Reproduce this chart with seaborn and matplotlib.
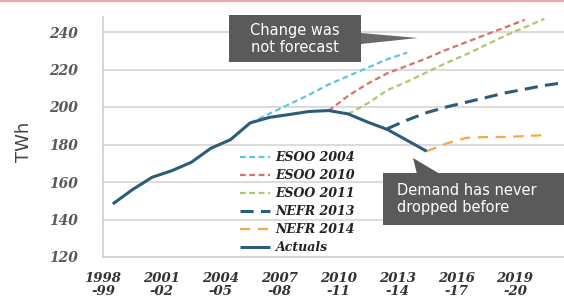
import matplotlib
matplotlib.use("Agg")
import matplotlib.pyplot as plt
import pandas as pd
import seaborn as sns
from matplotlib.patches import Rectangle, Polygon
from matplotlib.lines import Line2D

# ---------------- data ----------------
years = ["1998-99", "1999-00", "2000-01", "2001-02", "2002-03", "2003-04",
         "2004-05", "2005-06", "2006-07", "2007-08", "2008-09", "2009-10",
         "2010-11", "2011-12", "2012-13", "2013-14", "2014-15", "2015-16",
         "2016-17", "2017-18", "2018-19", "2019-20", "2020-21", "2021-22"]
tick_years = ["1998-99", "2001-02", "2004-05", "2007-08", "2010-11",
              "2013-14", "2016-17", "2019-20"]

esoo2004_start = "2005-06"
esoo2004 = [191.5, 196.5, 201.5, 206.5, 212.0, 216.5, 221.0, 225.5, 229.0]
esoo2010_start = "2009-10"
esoo2010 = [198.0, 206.0, 212.5, 218.0, 222.0, 226.0, 230.5, 234.5, 238.5, 242.5, 246.5]
esoo2011_start = "2010-11"
esoo2011 = [196.3, 202.0, 209.0, 213.5, 218.5, 223.5, 228.0, 233.0, 238.0, 242.5, 247.0]
nefr2013_start = "2012-13"
nefr2013 = [188.5, 193.0, 197.0, 200.0, 202.5, 205.0, 207.5, 209.5, 211.5, 213.0]
nefr2014_start = "2014-15"
nefr2014 = [176.4, 180.5, 183.5, 184.0, 184.0, 184.5, 185.0]
actuals_start = "1998-99"
actuals = [148.3, 155.9, 162.5, 166.0, 170.5, 178.0, 182.6, 191.5, 194.5,
           196.0, 197.6, 198.1, 196.3, 191.9, 188.0, 182.2, 176.4]

series = [
    ("ESOO 2004", esoo2004_start, esoo2004),
    ("ESOO 2010", esoo2010_start, esoo2010),
    ("ESOO 2011", esoo2011_start, esoo2011),
    ("NEFR 2013", nefr2013_start, nefr2013),
    ("NEFR 2014", nefr2014_start, nefr2014),
    ("Actuals", actuals_start, actuals),
]

rows = []
for name, start, vals in series:
    s = years.index(start)
    for k, v in enumerate(vals):
        rows.append({"series": name, "year": years[s + k], "value": v})
df = pd.DataFrame(rows)
df["pos"] = df["year"].map(lambda y: years.index(y) + 0.5)

# ---------------- styles ----------------
styles = {
    "ESOO 2004": dict(color="#5cc6df", lw=1.6, dashes=(2.6, 1.6)),
    "ESOO 2010": dict(color="#d8716b", lw=1.6, dashes=(2.6, 1.6)),
    "ESOO 2011": dict(color="#a9c96c", lw=1.6, dashes=(2.6, 1.6)),
    "NEFR 2013": dict(color="#2c5c7b", lw=2.2, dashes=(4.3, 2.4)),
    "NEFR 2014": dict(color="#f5a844", lw=1.6, dashes=(4.6, 3.4)),
    "Actuals":   dict(color="#2c5c7b", lw=2.2, dashes=None),
}

sns.set_style("white")
W, H = 564, 302
fig = plt.figure(figsize=(W / 100, H / 100), dpi=100)
ax = fig.add_axes([103 / W, 45 / H, (W - 103) / W, 1 - 17 / H - 45 / H])

handles = []
for name, _, _ in series:
    st = styles[name]
    sub = df[df["series"] == name]
    sns.lineplot(data=sub, x="pos", y="value", ax=ax, color=st["color"],
                 linewidth=st["lw"], estimator=None, sort=False,
                 legend=False, zorder=3 if name == "Actuals" else 2)
    ln = ax.lines[-1]
    if st["dashes"] is not None:
        ln.set_dashes(st["dashes"])
    ln.set_solid_capstyle("butt")
    ln.set_dash_capstyle("butt")
    handles.append(ln)

ax.set_xlim(0, 23.5)
ax.set_ylim(120, 248)
ax.set_yticks(range(120, 241, 20))
ax.set_xticks([years.index(y) for y in tick_years])
ax.set_xticklabels([y[:4] + "\n-" + y[5:] for y in tick_years],
                   fontdict=dict(family="DejaVu Serif", style="italic",
                                 weight="bold", size=9.5),
                   color="#333333", linespacing=0.95)
for t in ax.get_yticklabels():
    t.set_family("DejaVu Serif")
    t.set_style("italic")
    t.set_weight("bold")
    t.set_fontsize(10)
    t.set_color("#5a5a5a")
ax.set_xlabel("")
ax.set_ylabel("")
ax.grid(axis="y", color="#dcdcdc", linewidth=1.5)
ax.grid(axis="x", visible=False)
ax.set_axisbelow(True)
for side in ["top", "right"]:
    ax.spines[side].set_visible(False)
ax.spines["left"].set_color("#cfcfcf")
ax.spines["bottom"].set_color("#cfcfcf")
ax.spines["left"].set_linewidth(1.2)
ax.spines["bottom"].set_linewidth(1.2)
ax.tick_params(axis="y", length=3, color="#cfcfcf", pad=15)
ax.tick_params(axis="x", length=3, color="#cfcfcf", pad=8)

fig.text(24 / W, 1 - 142 / H, "TWh", rotation=90, ha="center", va="center",
         fontsize=13, color="#444444", family="DejaVu Sans")

leg = ax.legend(handles, [s[0] for s in series], loc="upper left",
                bbox_to_anchor=(240 / W, 1 - 151 / H),
                bbox_transform=fig.transFigure, frameon=False,
                borderpad=0, borderaxespad=0, handlelength=2.4,
                handletextpad=0.45, labelspacing=0.4,
                prop=dict(family="DejaVu Serif", style="italic",
                          weight="bold", size=9))
for t in leg.get_texts():
    t.set_color("#222222")

# ---------------- annotations ----------------
def fx(x):
    return x / W

def fy(y):
    return 1 - y / H

box_col = "#5a5a5a"
# box 1
fig.add_artist(Polygon([(fx(361), fy(33)), (fx(418), fy(38)), (fx(361), fy(44))],
                       closed=True, facecolor="#6a6a6a", edgecolor="none",
                       transform=fig.transFigure, zorder=5))
fig.add_artist(Rectangle((fx(229), fy(62)), fx(361) - fx(229), fy(15) - fy(62),
                         facecolor=box_col, edgecolor="none",
                         transform=fig.transFigure, zorder=5))
fig.text(fx(295), fy(39), "Change was\nnot forecast", ha="center", va="center",
         color="white", fontsize=10.5, family="DejaVu Sans", linespacing=1.2,
         zorder=6)
# box 2
fig.add_artist(Polygon([(fx(413), fy(158)), (fx(417), fy(174)), (fx(440), fy(174))],
                       closed=True, facecolor=box_col, edgecolor="none",
                       transform=fig.transFigure, zorder=5))
fig.add_artist(Rectangle((fx(383), fy(225)), fx(564) - fx(383), fy(173) - fy(225),
                         facecolor=box_col, edgecolor="none",
                         transform=fig.transFigure, zorder=5))
fig.text(fx(397), fy(199), "Demand has never\ndropped before", ha="left",
         va="center", color="white", fontsize=10.5, family="DejaVu Sans",
         linespacing=1.2, zorder=6)

# top pink rule
fig.add_artist(Line2D([0, 1], [fy(1), fy(1)], color="#f2a3ad", linewidth=1.5,
                      transform=fig.transFigure))

fig.savefig("out.png", dpi=100)
